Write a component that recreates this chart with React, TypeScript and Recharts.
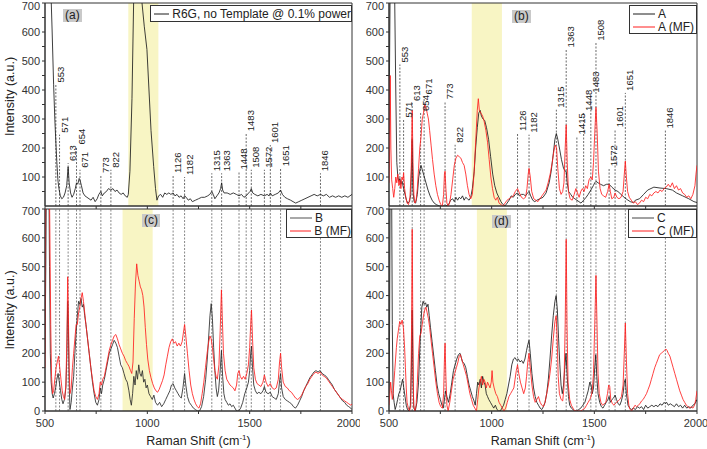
import { LineChart, Line, XAxis, YAxis, ReferenceArea, ReferenceLine, ReferenceDot } from "recharts"

type Pt = [number, number]

// Raman spectra, [shift cm-1, intensity a.u.]
const r6g: Pt[] = [
  [500, 1400], [515, 1100], [528, 760], [535, 600], [542, 420], [548, 300], [553, 220], [558, 150], [563, 90], [568, 60],
  [575, 35], [582, 25], [590, 30], [598, 45], [606, 70], [613, 135], [618, 80], [625, 45], [632, 30], [640, 40],
  [648, 60], [654, 80], [660, 75], [667, 95], [671, 90], [678, 70], [686, 45], [695, 35], [705, 30], [715, 25],
  [725, 20], [735, 30], [745, 15], [755, 25], [763, 40], [773, 50], [780, 35], [790, 45], [800, 50], [810, 60],
  [822, 55], [832, 60], [842, 50], [852, 55], [862, 45], [872, 40], [882, 45], [892, 35], [902, 30], [907, 40],
  [915, 120], [925, 370], [933, 700], [940, 900], [965, 900], [974, 700], [985, 620], [998, 540], [1008, 400], [1018, 260],
  [1031, 136], [1040, 60], [1047, 20], [1055, 35], [1065, 40], [1075, 30], [1085, 45], [1095, 40], [1105, 45], [1115, 40],
  [1126, 45], [1135, 35], [1145, 40], [1155, 30], [1165, 35], [1175, 25], [1182, 35], [1190, 30], [1200, 20], [1210, 25],
  [1220, 15], [1235, 20], [1250, 25], [1265, 30], [1280, 30], [1295, 35], [1305, 40], [1315, 50], [1322, 40], [1330, 25],
  [1340, 35], [1350, 45], [1358, 60], [1363, 80], [1368, 55], [1375, 45], [1390, 45], [1405, 40], [1420, 45], [1435, 40],
  [1448, 35], [1460, 40], [1472, 30], [1483, 35], [1495, 45], [1502, 50], [1508, 60], [1515, 45], [1525, 40], [1540, 35],
  [1555, 40], [1572, 35], [1585, 40], [1595, 35], [1601, 45], [1610, 35], [1625, 40], [1640, 45], [1651, 55], [1660, 40],
  [1672, 30], [1685, 25], [1700, 20], [1712, 15], [1725, 10], [1740, 15], [1755, 20], [1770, 25], [1785, 30], [1800, 35],
  [1815, 40], [1830, 35], [1846, 40], [1860, 35], [1875, 40], [1890, 30], [1905, 35], [1920, 30], [1935, 35], [1950, 30],
  [1965, 35], [1980, 30], [1990, 35], [2000, 40],
]

const sampleA: Pt[] = [
  [500, 250], [505, 700], [510, 900], [522, 900], [528, 700], [533, 400], [538, 150], [543, 100], [548, 85], [553, 95],
  [558, 75], [564, 85], [571, 60], [578, 40], [585, 20], [592, 10], [600, 15], [606, 40], [610, 150], [613, 230],
  [616, 60], [622, 15], [630, 10], [638, 40], [645, 100], [652, 130], [656, 140], [662, 125], [670, 105], [680, 80],
  [690, 55], [700, 35], [710, 20], [720, 10], [730, 5], [745, 0], [760, 0], [775, 0], [790, 5], [800, 20],
  [810, 25], [818, 15], [826, 30], [834, 20], [842, 30], [850, 25], [858, 35], [866, 20], [874, 30], [882, 25],
  [890, 20], [898, 30], [906, 60], [915, 120], [922, 200], [930, 270], [937, 320], [944, 330], [950, 310], [958, 300],
  [966, 295], [975, 270], [985, 230], [995, 170], [1005, 110], [1015, 70], [1025, 45], [1035, 30], [1045, 15], [1055, 5],
  [1065, 0], [1075, 10], [1085, 20], [1095, 35], [1105, 30], [1115, 40], [1126, 45], [1135, 35], [1145, 40], [1155, 40],
  [1165, 35], [1175, 45], [1182, 50], [1190, 35], [1200, 20], [1210, 15], [1220, 20], [1235, 25], [1250, 30], [1265, 45],
  [1280, 80], [1290, 120], [1300, 180], [1308, 230], [1315, 250], [1322, 230], [1330, 200], [1340, 160], [1350, 130], [1358, 120],
  [1363, 120], [1368, 80], [1375, 50], [1385, 40], [1395, 30], [1405, 25], [1415, 20], [1425, 15], [1435, 10], [1448, 20],
  [1460, 30], [1470, 40], [1483, 55], [1495, 70], [1502, 80], [1508, 85], [1518, 80], [1530, 75], [1545, 70], [1560, 75],
  [1572, 75], [1585, 65], [1601, 55], [1615, 50], [1630, 40], [1645, 30], [1660, 22], [1675, 15], [1690, 12], [1700, 20],
  [1720, 25], [1740, 40], [1760, 55], [1790, 65], [1820, 62], [1850, 60], [1880, 55], [1900, 45], [1930, 35], [1960, 25],
  [1985, 15], [2000, 12],
]

const sampleAmf: Pt[] = [
  [500, 80], [503, 200], [506, 450], [509, 200], [513, 90], [518, 60], [523, 30], [528, 60], [533, 100], [538, 80],
  [543, 110], [548, 70], [553, 90], [558, 60], [563, 100], [568, 90], [571, 115], [576, 60], [582, 30], [588, 10],
  [595, 5], [602, 30], [608, 120], [613, 330], [617, 150], [621, 40], [626, 10], [632, 20], [638, 60], [644, 130],
  [650, 200], [656, 240], [662, 300], [668, 320], [674, 350], [680, 340], [686, 320], [692, 300], [698, 260], [705, 210],
  [712, 160], [720, 110], [728, 70], [736, 40], [744, 20], [752, 5], [760, 0], [766, 40], [770, 110], [773, 120],
  [777, 60], [782, 10], [788, 0], [795, 10], [802, 40], [810, 90], [818, 140], [826, 165], [834, 175], [842, 170],
  [850, 165], [858, 150], [866, 140], [874, 110], [882, 70], [890, 40], [898, 25], [906, 40], [914, 110], [922, 220],
  [930, 330], [935, 370], [940, 330], [948, 320], [956, 310], [964, 290], [972, 260], [980, 220], [988, 160], [996, 100],
  [1004, 60], [1012, 30], [1020, 20], [1028, 30], [1036, 10], [1045, 5], [1055, 0], [1065, 10], [1075, 20], [1085, 25],
  [1095, 30], [1105, 35], [1115, 50], [1126, 60], [1135, 45], [1145, 30], [1155, 25], [1165, 30], [1172, 60], [1178, 110],
  [1182, 130], [1188, 100], [1195, 50], [1205, 25], [1215, 20], [1225, 15], [1235, 25], [1245, 35], [1255, 45], [1265, 55],
  [1275, 80], [1285, 110], [1295, 150], [1303, 190], [1310, 210], [1316, 200], [1322, 130], [1330, 60], [1338, 40], [1346, 50],
  [1352, 80], [1358, 200], [1363, 280], [1368, 150], [1374, 50], [1382, 25], [1392, 20], [1402, 40], [1410, 60], [1418, 45],
  [1426, 30], [1434, 50], [1442, 60], [1450, 50], [1458, 70], [1466, 60], [1474, 90], [1483, 100], [1490, 90], [1496, 150],
  [1502, 250], [1508, 340], [1514, 250], [1520, 120], [1528, 60], [1536, 40], [1545, 35], [1555, 30], [1565, 50], [1572, 75],
  [1578, 50], [1585, 25], [1595, 30], [1601, 45], [1610, 30], [1620, 25], [1630, 30], [1640, 50], [1646, 110], [1651, 155],
  [1656, 100], [1662, 50], [1670, 30], [1680, 20], [1690, 10], [1700, 15], [1710, 5], [1720, 10], [1730, 20], [1740, 15],
  [1750, 30], [1760, 25], [1770, 40], [1780, 35], [1790, 45], [1800, 50], [1810, 45], [1820, 55], [1830, 50], [1840, 60],
  [1850, 65], [1860, 75], [1870, 65], [1880, 80], [1890, 60], [1900, 70], [1910, 55], [1920, 60], [1930, 45], [1940, 40],
  [1950, 30], [1960, 35], [1970, 25], [1980, 40], [1990, 70], [1995, 110], [2000, 140],
]

const sampleB: Pt[] = [
  [500, 200], [504, 500], [508, 900], [518, 900], [522, 500], [526, 200], [530, 100], [535, 60], [540, 45], [546, 60],
  [552, 80], [558, 110], [564, 130], [570, 100], [576, 70], [582, 40], [588, 25], [595, 40], [602, 80], [607, 200],
  [611, 380], [614, 300], [618, 100], [622, 5], [628, 30], [634, 80], [640, 120], [646, 200], [652, 270], [658, 330],
  [664, 380], [670, 370], [676, 390], [682, 360], [688, 370], [694, 330], [700, 300], [708, 250], [716, 200], [724, 150],
  [732, 100], [740, 60], [748, 30], [756, 20], [764, 40], [770, 80], [776, 60], [782, 90], [790, 110], [798, 140],
  [806, 170], [814, 200], [822, 215], [830, 230], [838, 245], [846, 235], [854, 220], [862, 190], [870, 160], [878, 150],
  [886, 130], [894, 110], [902, 100], [910, 70], [916, 40], [922, 20], [928, 60], [934, 120], [940, 90], [946, 140],
  [952, 110], [958, 160], [964, 130], [970, 120], [976, 140], [982, 100], [988, 110], [994, 80], [1000, 90], [1008, 60],
  [1016, 50], [1024, 40], [1032, 55], [1040, 30], [1050, 20], [1060, 30], [1070, 15], [1080, 25], [1090, 40], [1100, 55],
  [1110, 70], [1118, 90], [1126, 95], [1134, 80], [1142, 70], [1150, 60], [1158, 50], [1166, 45], [1174, 80], [1182, 130],
  [1188, 90], [1196, 50], [1205, 30], [1215, 20], [1225, 10], [1235, 5], [1245, 0], [1255, 0], [1265, 15], [1275, 50],
  [1285, 110], [1293, 180], [1300, 260], [1306, 330], [1312, 372], [1318, 320], [1324, 220], [1330, 140], [1336, 80], [1342, 50],
  [1348, 70], [1355, 130], [1362, 210], [1368, 120], [1374, 60], [1380, 40], [1388, 30], [1396, 20], [1404, 25], [1412, 15],
  [1420, 20], [1428, 10], [1436, 0], [1446, 0], [1456, 10], [1466, 30], [1476, 60], [1486, 80], [1494, 100], [1500, 140],
  [1505, 200], [1509, 225], [1514, 150], [1520, 90], [1528, 70], [1536, 60], [1545, 65], [1555, 60], [1565, 70], [1572, 85],
  [1580, 65], [1590, 60], [1601, 65], [1610, 50], [1620, 45], [1630, 40], [1640, 60], [1647, 110], [1651, 130], [1656, 80],
  [1664, 50], [1674, 40], [1684, 35], [1694, 30], [1704, 25], [1714, 15], [1724, 10], [1734, 20], [1744, 35], [1754, 50],
  [1764, 70], [1774, 85], [1784, 100], [1794, 115], [1804, 125], [1814, 135], [1824, 140], [1834, 135], [1844, 140], [1854, 130],
  [1864, 125], [1874, 120], [1884, 110], [1894, 100], [1904, 90], [1914, 75], [1924, 65], [1934, 55], [1944, 45], [1954, 35],
  [1964, 30], [1974, 20], [1984, 15], [1994, 10], [2000, 5],
]

const sampleBmf: Pt[] = [
  [500, 150], [503, 700], [506, 900], [520, 900], [524, 600], [528, 300], [532, 120], [537, 60], [542, 70], [548, 110],
  [554, 150], [560, 170], [566, 190], [572, 150], [578, 110], [584, 70], [590, 50], [596, 40], [602, 90], [607, 250],
  [611, 465], [614, 350], [618, 150], [622, 60], [628, 80], [634, 150], [640, 200], [646, 250], [652, 300], [658, 300],
  [664, 340], [670, 360], [676, 390], [682, 410], [688, 380], [694, 340], [700, 300], [708, 250], [716, 200], [724, 150],
  [732, 110], [740, 70], [748, 50], [756, 40], [764, 60], [770, 100], [776, 90], [782, 110], [790, 120], [798, 150],
  [806, 180], [814, 210], [822, 230], [830, 245], [838, 260], [846, 265], [854, 250], [862, 230], [870, 215], [878, 200],
  [886, 190], [894, 175], [902, 165], [910, 155], [918, 140], [924, 130], [930, 170], [936, 320], [942, 440], [948, 510],
  [954, 470], [960, 450], [966, 430], [972, 420], [978, 400], [984, 360], [990, 290], [996, 230], [1002, 180], [1010, 140],
  [1018, 115], [1026, 95], [1034, 80], [1042, 70], [1050, 65], [1058, 75], [1066, 90], [1074, 105], [1082, 125], [1090, 160],
  [1098, 190], [1106, 220], [1114, 240], [1122, 250], [1130, 235], [1138, 240], [1146, 225], [1154, 235], [1162, 225], [1170, 240],
  [1176, 270], [1182, 300], [1188, 260], [1196, 200], [1204, 140], [1212, 90], [1220, 60], [1228, 40], [1236, 25], [1244, 15],
  [1252, 10], [1260, 25], [1268, 60], [1276, 100], [1284, 150], [1292, 200], [1300, 240], [1306, 260], [1312, 250], [1318, 220],
  [1324, 180], [1330, 140], [1336, 120], [1342, 110], [1350, 160], [1356, 280], [1362, 420], [1366, 330], [1372, 200], [1380, 140],
  [1388, 110], [1396, 100], [1404, 90], [1412, 85], [1420, 80], [1428, 70], [1436, 90], [1442, 130], [1448, 140], [1454, 120],
  [1462, 110], [1470, 120], [1478, 110], [1486, 130], [1494, 160], [1500, 220], [1505, 300], [1509, 350], [1514, 250], [1520, 150],
  [1528, 110], [1536, 95], [1545, 90], [1555, 85], [1565, 100], [1572, 125], [1580, 100], [1590, 85], [1601, 95], [1610, 80],
  [1620, 75], [1630, 80], [1640, 110], [1646, 170], [1651, 200], [1656, 150], [1664, 100], [1674, 85], [1684, 80], [1694, 70],
  [1704, 65], [1714, 55], [1724, 45], [1734, 40], [1744, 45], [1754, 55], [1764, 70], [1774, 85], [1784, 95], [1794, 110],
  [1804, 120], [1814, 130], [1824, 135], [1834, 130], [1844, 135], [1854, 125], [1864, 120], [1874, 115], [1884, 105], [1894, 95],
  [1904, 85], [1914, 75], [1924, 65], [1934, 55], [1944, 45], [1954, 40], [1964, 35], [1974, 30], [1984, 25], [1994, 20],
  [2000, 25],
]

const sampleC: Pt[] = [
  [500, 60], [503, 300], [506, 900], [512, 900], [516, 300], [520, 60], [525, 30], [530, 5], [536, 20], [542, 40],
  [548, 60], [554, 70], [560, 90], [566, 110], [572, 80], [578, 50], [584, 20], [590, 5], [598, 0], [604, 20],
  [609, 150], [613, 350], [617, 100], [621, 10], [628, 0], [636, 30], [644, 100], [652, 250], [660, 360], [666, 380],
  [672, 370], [678, 375], [684, 360], [690, 370], [696, 330], [702, 290], [710, 240], [718, 190], [726, 140], [734, 90],
  [742, 60], [750, 40], [758, 20], [764, 10], [770, 40], [776, 70], [782, 50], [790, 30], [798, 60], [806, 100],
  [814, 140], [822, 160], [830, 180], [838, 195], [846, 200], [852, 185], [858, 170], [866, 165], [874, 150], [882, 120],
  [890, 90], [898, 70], [906, 50], [914, 35], [920, 20], [926, 60], [932, 100], [938, 90], [944, 110], [950, 80],
  [956, 120], [962, 100], [968, 90], [974, 60], [980, 50], [986, 40], [994, 30], [1002, 20], [1010, 10], [1018, 20],
  [1026, 5], [1034, 0], [1042, 0], [1050, 10], [1058, 20], [1066, 40], [1074, 60], [1082, 90], [1090, 120], [1098, 160],
  [1106, 180], [1114, 185], [1122, 175], [1130, 180], [1138, 170], [1146, 175], [1154, 165], [1162, 180], [1170, 210], [1176, 230],
  [1182, 245], [1188, 200], [1196, 130], [1204, 80], [1212, 50], [1220, 30], [1228, 20], [1236, 10], [1244, 5], [1252, 15],
  [1260, 30], [1268, 60], [1276, 110], [1284, 180], [1292, 260], [1300, 330], [1308, 380], [1314, 400], [1320, 350], [1326, 250],
  [1332, 160], [1338, 90], [1344, 60], [1350, 90], [1356, 150], [1362, 200], [1368, 120], [1374, 50], [1380, 20], [1388, 10],
  [1396, 5], [1404, 0], [1414, 0], [1424, 5], [1434, 10], [1444, 20], [1454, 30], [1462, 50], [1470, 70], [1478, 100],
  [1484, 90], [1490, 60], [1496, 80], [1502, 150], [1507, 195], [1512, 120], [1518, 60], [1526, 30], [1534, 15], [1542, 10],
  [1550, 20], [1558, 30], [1566, 40], [1572, 50], [1578, 30], [1586, 40], [1594, 45], [1601, 55], [1608, 40], [1616, 25],
  [1624, 20], [1632, 35], [1640, 60], [1646, 100], [1651, 110], [1656, 60], [1664, 20], [1672, 10], [1680, 5], [1690, 10],
  [1700, 5], [1710, 15], [1720, 10], [1730, 15], [1740, 5], [1750, 20], [1760, 10], [1770, 15], [1780, 20], [1790, 15],
  [1800, 20], [1810, 15], [1820, 25], [1830, 20], [1840, 30], [1846, 25], [1852, 30], [1860, 20], [1870, 25], [1880, 20],
  [1890, 15], [1900, 25], [1910, 15], [1920, 20], [1930, 10], [1940, 20], [1950, 10], [1960, 15], [1970, 10], [1980, 20],
  [1990, 25], [2000, 40],
]

const sampleCmf: Pt[] = [
  [500, 20], [504, 60], [508, 100], [512, 70], [516, 40], [520, 60], [524, 100], [528, 140], [532, 180], [536, 220],
  [540, 250], [546, 280], [552, 310], [558, 300], [564, 315], [570, 290], [576, 220], [580, 150], [584, 80], [588, 30],
  [594, 10], [600, 0], [606, 20], [610, 300], [613, 630], [616, 300], [620, 20], [626, 0], [632, 20], [638, 100],
  [644, 200], [650, 260], [656, 270], [662, 300], [668, 330], [674, 350], [680, 360], [686, 340], [692, 320], [698, 290],
  [704, 250], [712, 200], [720, 150], [728, 100], [736, 60], [744, 30], [752, 15], [760, 10], [766, 60], [770, 180],
  [773, 235], [777, 120], [782, 20], [788, 0], [796, 30], [804, 70], [812, 110], [820, 130], [828, 150], [836, 170],
  [842, 190], [848, 195], [854, 180], [862, 160], [870, 140], [878, 120], [886, 90], [894, 60], [902, 40], [910, 20],
  [918, 10], [926, 0], [932, 40], [938, 80], [944, 100], [950, 120], [956, 90], [962, 110], [968, 100], [974, 80],
  [980, 100], [986, 90], [992, 80], [998, 100], [1002, 140], [1006, 100], [1012, 80], [1020, 60], [1028, 50], [1036, 30],
  [1044, 20], [1052, 10], [1060, 0], [1068, 10], [1076, 30], [1084, 50], [1092, 60], [1100, 70], [1108, 80], [1114, 110],
  [1120, 140], [1126, 160], [1132, 130], [1140, 100], [1148, 80], [1156, 60], [1164, 80], [1170, 120], [1176, 170], [1182, 200],
  [1188, 150], [1196, 90], [1204, 50], [1212, 30], [1220, 40], [1228, 50], [1236, 30], [1244, 20], [1252, 15], [1260, 30],
  [1268, 60], [1276, 90], [1284, 130], [1292, 180], [1300, 250], [1308, 310], [1314, 330], [1319, 250], [1324, 120], [1330, 60],
  [1338, 40], [1346, 35], [1352, 80], [1358, 300], [1363, 595], [1367, 300], [1372, 100], [1380, 40], [1388, 20], [1396, 10],
  [1404, 0], [1414, 0], [1424, 0], [1434, 0], [1444, 5], [1454, 10], [1462, 20], [1470, 30], [1478, 40], [1484, 50],
  [1490, 70], [1496, 130], [1502, 300], [1508, 470], [1513, 300], [1518, 130], [1524, 60], [1532, 30], [1540, 20], [1548, 25],
  [1556, 30], [1564, 60], [1570, 90], [1575, 85], [1580, 40], [1588, 25], [1596, 20], [1601, 25], [1608, 30], [1616, 35],
  [1624, 40], [1632, 50], [1640, 90], [1646, 200], [1651, 305], [1656, 180], [1662, 60], [1668, 20], [1674, 5], [1682, 0],
  [1690, 10], [1698, 20], [1706, 15], [1714, 20], [1722, 25], [1730, 35], [1738, 40], [1746, 50], [1754, 60], [1762, 75],
  [1770, 90], [1778, 110], [1786, 130], [1794, 150], [1802, 165], [1810, 180], [1818, 195], [1826, 200], [1834, 205], [1842, 210],
  [1848, 215], [1854, 210], [1860, 200], [1868, 190], [1876, 170], [1884, 150], [1892, 130], [1900, 110], [1908, 90], [1916, 70],
  [1924, 55], [1932, 40], [1940, 30], [1948, 20], [1956, 15], [1964, 10], [1972, 15], [1980, 10], [1988, 20], [1994, 40],
  [2000, 70],
]

// assigned band positions and how high their markers reach in the top panels
const peaksAC = [553, 571, 613, 654, 671, 773, 822, 1126, 1182, 1315, 1363, 1448, 1483, 1508, 1572, 1601, 1651, 1846]
const markTopsA = [419, 246, 148, 205, 125, 107, 125, 107, 100, 113, 113, 119, 251, 125, 125, 210, 130, 113]
const peaksBD = [553, 571, 613, 654, 671, 773, 822, 1126, 1182, 1315, 1363, 1415, 1448, 1483, 1508, 1572, 1601, 1651, 1846]
const markTopsB = [488, 298, 355, 321, 378, 361, 211, 252, 246, 332, 540, 240, 321, 384, 563, 130, 265, 390, 260]

// shaded region per panel
const bandA: [number, number] = [907, 1054]
const bandB: [number, number] = [903, 1050]
const bandC: [number, number] = [879, 1026]
const bandD: [number, number] = [928, 1074]

const yTicks = [0, 50, 100, 150, 200, 250, 300, 350, 400, 450, 500, 550, 600, 650, 700]
const xTicks = [500, 750, 1000, 1250, 1500, 1750, 2000]

const INK = "#1c1c1c"
const RED = "#ff1f1f"
const FONT = "'Liberation Sans', Arial, sans-serif"

const toRows = (pts: Pt[]) => pts.map(([x, y]) => ({ x, y }))

type Series = { name: string; pts: Pt[]; color: string }

const PeakTag = ({ cx, cy, text }: { cx: number; cy: number; text: string }) => (
  <text transform={`translate(${cx + 8},${cy - 2}) rotate(-90)`} fontSize={9.5} fill="#222">
    {text}
  </text>
)

const ShiftTitle = (props: any) => {
  const vb = props.viewBox || { x: 0, y: 0, width: 0, height: 0 }
  return (
    <text x={vb.x + vb.width / 2} y={vb.y + 34} textAnchor="middle" fontSize={12.5} fill="#222">
      <tspan>Raman Shift (cm</tspan>
      <tspan dy={-5} fontSize={8}>-1</tspan>
      <tspan dy={5}>)</tspan>
    </text>
  )
}

const IntensityTitle = (props: any) => {
  const vb = props.viewBox || { x: 0, y: 0, width: 0, height: 0 }
  const cy = vb.y + vb.height / 2 - (props.lift || 0)
  return (
    <text transform={`translate(14,${cy}) rotate(-90)`} textAnchor="middle" fontSize={12.5} fill="#222">
      Intensity (a.u.)
    </text>
  )
}

type PanelProps = {
  left: number
  top: number
  width: number
  height: number
  marginTop: number
  marginRight: number
  yWidth: number
  xHeight: number
  xLabels: boolean
  yTitle: boolean
  lift?: number
  series: Series[]
  band: [number, number]
  peaks: number[]
  tops?: number[]
}

function Panel(p: PanelProps) {
  return (
    <div style={{ position: "absolute", left: p.left, top: p.top }}>
      <LineChart
        width={p.width}
        height={p.height}
        margin={{ top: p.marginTop, right: p.marginRight, bottom: 0, left: 0 }}
      >
        <ReferenceArea x1={p.band[0]} x2={p.band[1]} y1={0} y2={700} fill="#f8f5c4" fillOpacity={1} stroke="none" />
        {p.tops
          ? p.peaks.map((x, i) => (
              <ReferenceLine
                key={`l${x}`}
                segment={[{ x, y: 0 }, { x, y: p.tops![i] }]}
                stroke="#444"
                strokeDasharray="2 1.5"
                strokeWidth={0.8}
              />
            ))
          : p.peaks.map((x) => (
              <ReferenceLine key={`l${x}`} x={x} stroke="#555" strokeDasharray="2 1.5" strokeWidth={0.7} />
            ))}
        {p.tops &&
          p.peaks.map((x, i) => (
            <ReferenceDot
              key={`t${x}`}
              x={x}
              y={p.tops![i]}
              r={0}
              shape={(d: any) => <PeakTag cx={d.cx} cy={d.cy} text={String(x)} />}
            />
          ))}
        <XAxis
          type="number"
          dataKey="x"
          domain={[500, 2000]}
          ticks={xTicks}
          allowDataOverflow
          height={p.xHeight}
          tickSize={3}
          tickMargin={5}
          stroke="#333"
          tick={{ fontSize: 11, fill: "#333" }}
          tickFormatter={(v: number) => (p.xLabels && v % 500 === 0 ? String(v) : "")}
          label={p.xLabels ? <ShiftTitle /> : undefined}
        />
        <YAxis
          type="number"
          domain={[0, 700]}
          ticks={yTicks}
          allowDataOverflow
          width={p.yWidth}
          tickSize={3}
          stroke="#333"
          tick={{ fontSize: 11, fill: "#333" }}
          tickFormatter={(v: number) => (v % 100 === 0 ? String(v) : "")}
          label={p.yTitle ? <IntensityTitle lift={p.lift} /> : undefined}
        />
        {p.series.map((s) => (
          <Line
            key={s.name}
            name={s.name}
            data={toRows(s.pts)}
            dataKey="y"
            type="linear"
            stroke={s.color}
            strokeWidth={0.85}
            dot={false}
            isAnimationActive={false}
          />
        ))}
        <ReferenceArea x1={500} x2={2000} y1={0} y2={700} fill="none" stroke="#333" strokeWidth={1} />
      </LineChart>
    </div>
  )
}

type Entry = { label: string; color: string; width?: number }

const LegendBox = ({ left, top, width, height, entries }: { left: number; top: number; width: number; height: number; entries: Entry[] }) => (
  <div
    style={{
      position: "absolute",
      left,
      top,
      width,
      height,
      boxSizing: "border-box",
      border: "1px solid #333",
      background: "#fff",
      fontSize: 12,
      color: "#222",
      paddingTop: 1,
    }}
  >
    {entries.map((e) => (
      <div key={e.label} style={{ display: "flex", alignItems: "center", height: 13, paddingLeft: 3, whiteSpace: "nowrap" }}>
        <svg width={22} height={6} style={{ marginRight: 3 }}>
          <line x1={0} y1={3} x2={22} y2={3} stroke={e.color} strokeWidth={e.width || 1} />
        </svg>
        <span>{e.label}</span>
      </div>
    ))}
  </div>
)

const Tag = ({ left, top, text }: { left: number; top: number; text: string }) => (
  <div
    style={{
      position: "absolute",
      left,
      top,
      background: "#c9c9c9",
      fontSize: 12,
      lineHeight: "13px",
      padding: "0 2px",
      color: "#222",
    }}
  >
    {text}
  </div>
)

export default function App() {
  const seriesA: Series[] = [{ name: "R6G, no Template @ 0.1% power", pts: r6g, color: INK }]
  const seriesB: Series[] = [
    { name: "A", pts: sampleA, color: INK },
    { name: "A (MF)", pts: sampleAmf, color: RED },
  ]
  const seriesC: Series[] = [
    { name: "B", pts: sampleB, color: "#2a2a2a" },
    { name: "B (MF)", pts: sampleBmf, color: RED },
  ]
  const seriesD: Series[] = [
    { name: "C", pts: sampleC, color: INK },
    { name: "C (MF)", pts: sampleCmf, color: RED },
  ]

  return (
    <div style={{ position: "absolute", left: 0, top: 0, width: 707, height: 449, background: "#fff", fontFamily: FONT, overflow: "hidden" }}>
      <Panel left={0} top={205} width={360} height={244} marginTop={4} marginRight={8} yWidth={45} xHeight={38} xLabels yTitle series={seriesC} band={bandC} peaks={peaksAC} />
      <Panel left={350} top={205} width={357} height={244} marginTop={4} marginRight={10} yWidth={39} xHeight={38} xLabels yTitle={false} series={seriesD} band={bandD} peaks={peaksBD} />
      <Panel left={0} top={0} width={360} height={210} marginTop={3} marginRight={8} yWidth={45} xHeight={4} xLabels={false} yTitle lift={8} series={seriesA} band={bandA} peaks={peaksAC} tops={markTopsA} />
      <Panel left={350} top={0} width={357} height={210} marginTop={3} marginRight={10} yWidth={39} xHeight={4} xLabels={false} yTitle={false} series={seriesB} band={bandB} peaks={peaksBD} tops={markTopsB} />

      <LegendBox left={150} top={5} width={202} height={17} entries={[{ label: seriesA[0].name, color: INK }]} />
      <LegendBox left={629} top={5} width={68} height={29} entries={[{ label: "A", color: INK }, { label: "A (MF)", color: RED }]} />
      <LegendBox left={286} top={209} width={66} height={29} entries={[{ label: "B", color: "#a8a8a8", width: 2 }, { label: "B (MF)", color: RED }]} />
      <LegendBox left={628} top={209} width={69} height={29} entries={[{ label: "C", color: "#444" }, { label: "C (MF)", color: RED }]} />

      <Tag left={63} top={9} text="(a)" />
      <Tag left={512} top={10} text="(b)" />
      <Tag left={142} top={214} text="(c)" />
      <Tag left={492} top={215} text="(d)" />
    </div>
  )
}
